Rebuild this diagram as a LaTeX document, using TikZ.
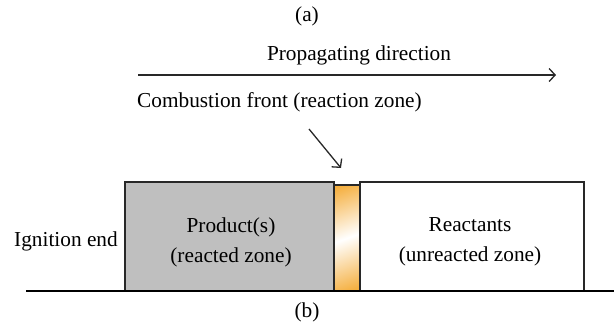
\documentclass[tikz,border=0pt]{standalone}
\usepackage{fontspec}
\setmainfont{Liberation Serif}
\usetikzlibrary{arrows.meta}
\definecolor{prodgrey}{RGB}{191,191,191}
\definecolor{flame}{RGB}{245,176,65}
\definecolor{edge}{RGB}{40,40,40}
\pgfdeclareverticalshading{flameshade}{100bp}{color(0bp)=(flame); color(20bp)=(flame); color(50bp)=(white); color(80bp)=(flame); color(100bp)=(flame)}
\tikzset{
  lbl/.style={font=\fontsize{21.3}{25}\selectfont, inner sep=0pt},
  zonetext/.style={align=center, inner sep=0pt, font=\fontsize{21.3}{30}\selectfont},
  zone/.style={draw=edge, line width=1.4pt, inner sep=0pt},
  pointer/.style={draw=edge, line width=1.3pt, -{Straight Barb[length=6pt,width=13pt,line width=1.3pt]}},
}
\begin{document}
\begin{tikzpicture}[x=1pt,y=-1pt]
\useasboundingbox (0,0) rectangle (614,333);
\node[lbl] (lbla) at (307,16) {(a)};
\node[lbl] (prop) at (359,55) {Propagating direction};
\coordinate (a1) at (138,75);
\coordinate (a2) at (556,75);
\draw[pointer, line width=1.8pt] (a1) -- (a2);
\node[lbl, anchor=west] (comb) at (137,102) {Combustion front (reaction zone)};
\coordinate (d1) at (309,129);
\coordinate (d2) at (341,168);
\draw[pointer] (d1) -- (d2);
\node[zone, fill=prodgrey, minimum width=209pt, minimum height=109pt] (prod) at (229.5,236.5) {};
\node[zone, shading=flameshade, shading angle=20, minimum width=26pt, minimum height=106pt] (front) at (347,238) {};
\node[zone, fill=white, minimum width=224pt, minimum height=109pt] (reac) at (472,236.5) {};
\node[zonetext] (prodtxt) at (231,242) {Product(s)\\(reacted zone)};
\node[zonetext] (reactxt) at (470,242) {Reactants\\(unreacted zone)};
\node[lbl] (ign) at (66,241) {Ignition end};
\coordinate (b1) at (26,291);
\coordinate (b2) at (614,291);
\draw[line width=1.5pt, black] (b1) -- (b2);
\node[lbl] (lblb) at (307,312) {(b)};
\end{tikzpicture}
\end{document}
